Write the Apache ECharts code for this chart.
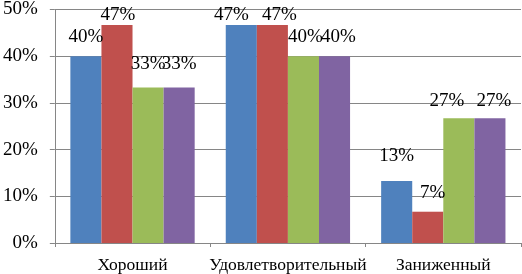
<!DOCTYPE html>
<html>
<head>
<meta charset="utf-8">
<script src="https://cdn.jsdelivr.net/npm/echarts@6/dist/echarts.min.js"></script>
<style>html,body{margin:0;padding:0;background:#fff;}#c{width:522px;height:274px;}</style>
</head>
<body>
<div id="c"></div>
<script>
const categories = ['Хороший', 'Удовлетворительный', 'Заниженный'];
const series1 = [40, 46.7, 13.3];
const series2 = [46.7, 46.7, 6.7];
const series3 = [33.3, 40, 26.7];
const series4 = [33.3, 40, 26.7];
const yTicks = [0, 10, 20, 30, 40, 50];

const colors = ['#4F81BD', '#C0504D', '#9BBB59', '#8064A2'];
// label nudges [dx, dy] per series per category (mimicking the hand-placed labels)
const labelOffsets = [
  [[0, -7], [-10, 2], [0, -13]],
  [[1, 2], [7, 2], [5, -7]],
  [[0, -11], [2, -7], [-12, -5]],
  [[0, -11], [4, -7], [4, -5]]
];
const FONT = 'Liberation Serif';
const allSeries = [series1, series2, series3, series4];

const chart = echarts.init(document.getElementById('c'), null, {renderer: 'canvas'});
chart.setOption({
  animation: false,
  backgroundColor: '#ffffff',
  grid: {left: 53, right: 1, top: 5.5, bottom: 31, containLabel: false},
  xAxis: {
    type: 'category',
    data: categories,
    axisLine: {show: true, lineStyle: {color: '#868686', width: 1}},
    axisTick: {show: true, alignWithLabel: false, length: 4, lineStyle: {color: '#868686'}},
    axisLabel: {interval: 0, fontFamily: FONT, fontSize: 17.5, color: '#000', margin: 13}
  },
  yAxis: {
    type: 'value',
    min: yTicks[0], max: yTicks[yTicks.length - 1], interval: 10,
    axisLine: {show: true, lineStyle: {color: '#868686', width: 1}},
    axisTick: {show: true, inside: false, length: 5, lineStyle: {color: '#868686'}},
    splitLine: {show: true, lineStyle: {color: '#868686', width: 1}},
    axisLabel: {fontFamily: FONT, fontSize: 19, color: '#000', margin: 17, formatter: v => v + '%'}
  },
  series: allSeries.map((vals, si) => ({
    type: 'bar',
    name: 'Ряд ' + (si + 1),
    barGap: '0%',
    barCategoryGap: '20%',
    itemStyle: {color: colors[si]},
    data: vals.map((v, ci) => ({
      value: v,
      label: {offset: labelOffsets[si][ci]}
    })),
    label: {
      show: true, position: 'top', distance: 2.5,
      fontFamily: FONT, fontSize: 19, color: '#000',
      formatter: p => Math.round(p.value) + '%'
    }
  }))
});
</script>
</body>
</html>
